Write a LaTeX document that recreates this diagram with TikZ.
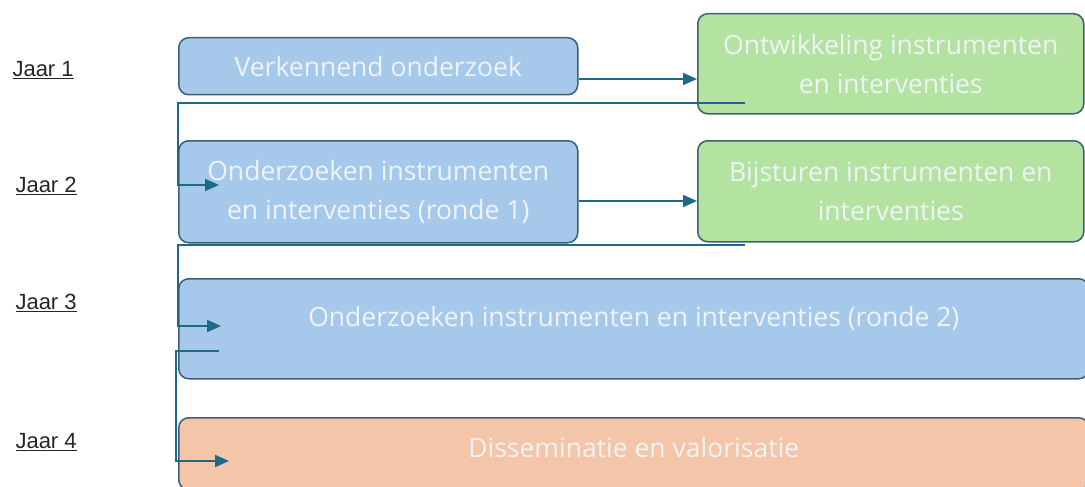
\documentclass[tikz,border=0pt]{standalone}
\usepackage{fontspec}
\setmainfont{Open Sans}
\newfontfamily\jaarfont{Liberation Sans}
\usetikzlibrary{arrows.meta, positioning}
\definecolor{blauw}{HTML}{A6C9EB}
\definecolor{groen}{HTML}{B4E3A1}
\definecolor{oranje}{HTML}{F5C5A9}
\definecolor{rand}{HTML}{3F5E72}
\definecolor{pijl}{HTML}{1E6888}
\definecolor{tekst}{HTML}{EEF3F6}
\tikzset{
  fase/.style = {draw=rand, line width=1.5pt, rounded corners=10pt, anchor=north west,
                 text=tekst, align=center, font=\fontsize{26.5}{39}\selectfont, inner sep=0pt},
  jaar/.style = {text=black!85, font=\jaarfont\fontsize{22}{24}\selectfont, anchor=west},
  verbind/.style = {draw=pijl, line width=2pt},
  pijlkop/.style = {verbind, -{Triangle[length=14pt, width=12pt]}}
}
\begin{document}
\begin{tikzpicture}[x=1pt, y=-1pt]
\useasboundingbox (0,0) rectangle (1085,487);
% jaren
\node[jaar] (j1) at (9,70) {\underline{Jaar 1}};
\node[jaar] (j2) at (12,186) {\underline{Jaar 2}};
\node[jaar] (j3) at (12,303) {\underline{Jaar 3}};
\node[jaar] (j4) at (12,442) {\underline{Jaar 4}};
% fases
\node[fase, fill=blauw, minimum width=399pt, minimum height=57pt] (verk) at (178,37) {Verkennend onderzoek};
\node[fase, fill=groen, minimum width=386pt, minimum height=100pt] (ontw) at (697,13) {Ontwikkeling instrumenten\\en interventies};
\node[fase, fill=blauw, minimum width=399pt, minimum height=102pt] (ond1) at (178,140) {Onderzoeken instrumenten\\en interventies (ronde 1)};
\node[fase, fill=groen, minimum width=386pt, minimum height=101pt] (bijs) at (697,140) {Bijsturen instrumenten en\\interventies};
\node[fase, fill=blauw, minimum width=910pt, minimum height=100pt] (ond2) at (178,278) {};
\node[fase, draw=none, anchor=center] (ond2t) at ([yshift=10pt]ond2.center) {Onderzoeken instrumenten en interventies (ronde 2)};
\node[fase, fill=oranje, minimum width=910pt, minimum height=72pt] (diss) at (178,417) {};
\node[fase, draw=none, anchor=center] (disst) at ([yshift=6pt]diss.center) {Disseminatie en valorisatie};
% hulppunten
\coordinate (a1) at (745,103);
\coordinate (a2) at (178,103);
\coordinate (a3) at (178,185);
\coordinate (a4) at (219,185);
\coordinate (b1) at (745,245);
\coordinate (b2) at (178,245);
\coordinate (b3) at (178,326);
\coordinate (b4) at (221,326);
\coordinate (c1) at (219,351);
\coordinate (c2) at (176,351);
\coordinate (c3) at (176,461);
\coordinate (c4) at (229,461);
% pijlen
\draw[pijlkop] (verk.east |- 0,79) -- (ontw.west |- 0,79);
\draw[pijlkop] (ond1.east |- 0,201) -- (bijs.west |- 0,201);
\draw[pijlkop] (a1) -- (a2) -- (a3) -- (a4);
\draw[pijlkop] (b1) -- (b2) -- (b3) -- (b4);
\draw[pijlkop] (c1) -- (c2) -- (c3) -- (c4);
\end{tikzpicture}
\end{document}
